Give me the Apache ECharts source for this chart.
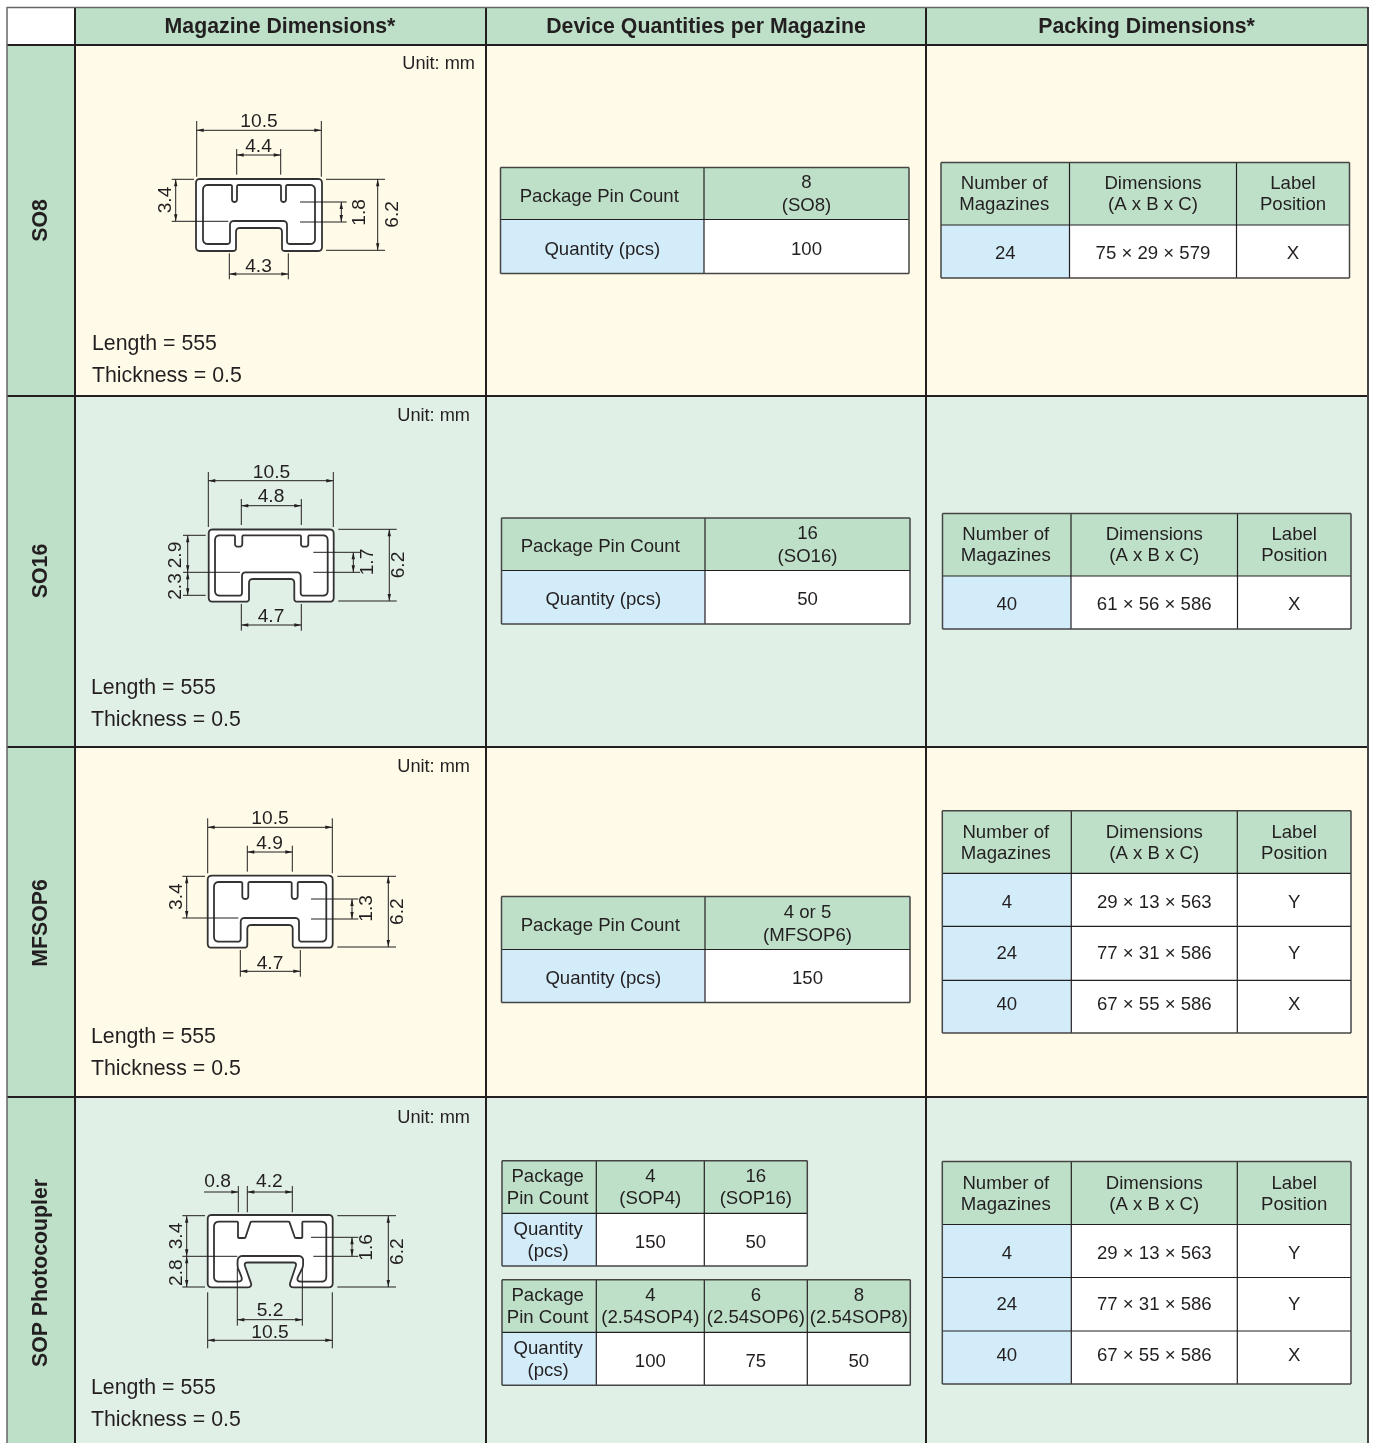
<!DOCTYPE html>
<html><head><meta charset="utf-8">
<style>html,body{margin:0;padding:0;background:#fff}#c{width:1376px;height:1443px}</style>
<script src="https://cdn.jsdelivr.net/npm/echarts@6/dist/echarts.min.js"></script>
</head><body><div id="c"></div>
<script>
// ---------- content ----------
const columnTitles = ["Magazine Dimensions*", "Device Quantities per Magazine", "Packing Dimensions*"];
const packageNames = ["SO8", "SO16", "MFSOP6", "SOP Photocoupler"];
const unitLabel = "Unit: mm";
const lengthLabel = "Length = 555";
const thicknessLabel = "Thickness = 0.5";
const packingHeader = ["Number of\nMagazines", "Dimensions\n(A x B x C)", "Label\nPosition"];
const so8Quantity = [["Package Pin Count", "8\n(SO8)"], ["Quantity (pcs)", "100"]];
const so16Quantity = [["Package Pin Count", "16\n(SO16)"], ["Quantity (pcs)", "50"]];
const mfsopQuantity = [["Package Pin Count", "4 or 5\n(MFSOP6)"], ["Quantity (pcs)", "150"]];
const sopQuantity = [["Package\nPin Count", "4\n(SOP4)", "16\n(SOP16)"], ["Quantity\n(pcs)", "150", "50"]];
const sop254Quantity = [["Package\nPin Count", "4\n(2.54SOP4)", "6\n(2.54SOP6)", "8\n(2.54SOP8)"], ["Quantity\n(pcs)", "100", "75", "50"]];
const so8Packing = [["24", "75 × 29 × 579", "X"]];
const so16Packing = [["40", "61 × 56 × 586", "X"]];
const mfsopPacking = [["4", "29 × 13 × 563", "Y"], ["24", "77 × 31 × 586", "Y"], ["40", "67 × 55 × 586", "X"]];
const sopPacking = [["4", "29 × 13 × 563", "Y"], ["24", "77 × 31 × 586", "Y"], ["40", "67 × 55 × 586", "X"]];
const so8Dims = ["10.5", "4.4", "3.4", "1.8", "6.2", "4.3"];
const so16Dims = ["10.5", "4.8", "2.9", "2.3", "1.7", "6.2", "4.7"];
const mfsopDims = ["10.5", "4.9", "3.4", "1.3", "6.2", "4.7"];
const sopDims = ["0.8", "4.2", "3.4", "2.8", "1.6", "6.2", "5.2", "10.5"];

// ---------- styling ----------
const INK = "#231F20", HEAD = "#BEE0C9", YEL = "#FFFBE8", MINT = "#E1F0E6", BLUE = "#D3ECFA";
const FONT = '"Liberation Sans", Arial, sans-serif';
const CELL = 18.6;
const prims = [];
const rect = (x0, y0, x1, y1, fill) => prims.push({k: "rect", x0, y0, x1, y1, fill});
const line = (x1, y1, x2, y2, lw, color) => prims.push({k: "line", x1, y1, x2, y2, lw: lw || 1, color: color || INK});
const text = (s, x, y, size, o) => prims.push(Object.assign({k: "text", s, x, y, size}, o || {}));
const poly = (pts, fill, lw) => prims.push({k: "poly", pts, fill, lw: lw || 0});

// ---------- table frame ----------
const colX = [7, 75, 486, 926, 1368];
const rowY = [45, 396, 747, 1097, 1444];
rect(colX[0], 8, colX[1], rowY[0], "#fff");
rect(colX[1], 8, colX[4], rowY[0], HEAD);
rect(colX[0], rowY[0], colX[1], 1444, HEAD);
[YEL, MINT, YEL, MINT].forEach((c, i) => rect(colX[1], rowY[i], colX[4], rowY[i + 1], c));
const headerCX = [280, 706, 1146.5];
columnTitles.forEach((t, i) => text(t, headerCX[i], 26, 21.3, {bold: true}));
const nameCY = [220.5, 571, 923, 1273];
packageNames.forEach((t, i) => text(t, 40.5, nameCY[i], 21.3, {bold: true, rot: true}));
[[475, 63, 92, 343, 375], [470, 415, 91, 687, 719], [470, 766, 91, 1036, 1068], [470, 1117, 91, 1387, 1419]].forEach(a => {
  text(unitLabel, a[0], a[1], 18.2, {align: "right"});
  text(lengthLabel, a[2], a[3], 21.3, {align: "left"});
  text(thicknessLabel, a[2], a[4], 21.3, {align: "left"});
});

// ---------- inner tables ----------
function drawTable(xs, ys, cells, o) {
  const n = xs.length - 1, m = ys.length - 1;
  for (let r = 0; r < m; r++) for (let c = 0; c < n; c++)
    rect(xs[c], ys[r], xs[c + 1], ys[r + 1], r === 0 ? HEAD : (c === 0 ? BLUE : "#fff"));
  for (let c = 1; c < n; c++) line(xs[c], ys[0], xs[c], ys[m], 1.2);
  for (let r = 1; r < m; r++) line(xs[0], ys[r], xs[n], ys[r], 1.2);
  line(xs[0], ys[0], xs[n], ys[0], 1.5, "#444"); line(xs[0], ys[m], xs[n], ys[m], 1.5, "#444");
  line(xs[0], ys[0], xs[0], ys[m], 1.5, "#444"); line(xs[n], ys[0], xs[n], ys[m], 1.5, "#444");
  cells.forEach((row, r) => row.forEach((s, c) => {
    let cx = (xs[c] + xs[c + 1]) / 2;
    if (c === 0 && r === 0) cx += o.headDx || 0;
    if (c === 0 && r > 0) cx += o.bodyDx || 0;
    const cy = (ys[r] + ys[r + 1]) / 2;
    const parts = s.split("\n");
    const single = o.bodyDy && r > 0 ? o.bodyDy[r - 1] : (o.single === undefined ? 2.5 : o.single);
    if (parts.length === 1) text(s, cx, cy + single, CELL);
    else parts.forEach((p, i) => text(p, cx, cy + (i - 0.5) * o.gap, CELL));
  }));
}
drawTable([500.5, 704, 909], [167.5, 219.5, 273.5], so8Quantity, {gap: 23, headDx: -3});
drawTable([501.5, 705, 910], [518, 570.5, 624], so16Quantity, {gap: 23, headDx: -3, single: 2});
drawTable([501.5, 705, 910], [896.5, 949.5, 1002.5], mfsopQuantity, {gap: 23, headDx: -3, single: 1.5});
drawTable([502, 596.3, 704.3, 807.3], [1160.7, 1213.3, 1266], sopQuantity, {gap: 22, headDx: -1.5, bodyDx: -1});
drawTable([502, 596.3, 704.3, 807.3, 910.3], [1279.7, 1332.3, 1385.3], sop254Quantity, {gap: 22, headDx: -1.5, bodyDx: -1, single: 2});
const packHead = r => [packingHeader].concat(r);
const packDy1 = [1.5], packDy3 = [2, 0, -2.5];
drawTable([941, 1069.5, 1236.5, 1349.5], [162.5, 225, 278], packHead(so8Packing), {gap: 21, headDx: -1, bodyDy: packDy1});
drawTable([942.5, 1071, 1237.5, 1351], [513.5, 576, 629], packHead(so16Packing), {gap: 21, headDx: -1, bodyDy: packDy1});
drawTable([942.3, 1071.3, 1237.3, 1351], [810.7, 873.3, 926.3, 980.3, 1033], packHead(mfsopPacking), {gap: 21, headDx: -1, bodyDy: packDy3});
drawTable([942.3, 1071.3, 1237.3, 1351], [1161.5, 1224.5, 1277.5, 1331, 1384], packHead(sopPacking), {gap: 21, headDx: -1, bodyDy: packDy3});

// frame lines on top of the fills
[rowY[0], rowY[1], rowY[2], rowY[3]].forEach(y => line(colX[0], y, colX[4], y, 2));
[colX[1], colX[2], colX[3]].forEach(x => line(x, 8, x, 1443, 2));
line(colX[0], 7.5, colX[4], 7.5, 1.5, "#666");
line(colX[0], 7, colX[0], 1443, 1.5, "#666");
line(colX[4], 7, colX[4], 1443, 2, "#444");

// ---------- magazine profiles ----------
function roundPts(pts) {
  const out = [], n = pts.length;
  pts.forEach((p, i) => {
    const a = pts[(i + n - 1) % n], b = pts[(i + 1) % n], r = p[2] || 0;
    const la = Math.hypot(a[0] - p[0], a[1] - p[1]), lb = Math.hypot(b[0] - p[0], b[1] - p[1]);
    const ra = Math.min(r, la / 2), rb = Math.min(r, lb / 2);
    const s = [p[0] + (a[0] - p[0]) / la * ra, p[1] + (a[1] - p[1]) / la * ra];
    const e = [p[0] + (b[0] - p[0]) / lb * rb, p[1] + (b[1] - p[1]) / lb * rb];
    for (let t = 0; t <= 1.001; t += 0.2) {
      const u = 1 - t;
      out.push([u * u * s[0] + 2 * u * t * p[0] + t * t * e[0], u * u * s[1] + 2 * u * t * p[1] + t * t * e[1]]);
    }
  });
  return out;
}
const WALL = 1.8;
function drawProfile(outer, inner) {
  poly(roundPts(outer), "#fff", WALL);
  poly(roundPts(inner), "#fff", WALL);
}
function standard(g) {
  drawProfile([
    [g.ox0, g.oy0, 4], [g.ox1, g.oy0, 4], [g.ox1, g.oy1, 4], [g.nB, g.oy1, 3], [g.nB, g.nY, 4],
    [g.nA, g.nY, 4], [g.nA, g.oy1, 3], [g.ox0, g.oy1, 4]
  ], [
    [g.ix0, g.iy0, 5], [g.s1a, g.iy0, 1.5], [g.s1a, g.sy, 3], [g.s1b, g.sy, 3], [g.s1b, g.iy0, 1.5],
    [g.s2a, g.iy0, 1.5], [g.s2a, g.sy, 3], [g.s2b, g.sy, 3], [g.s2b, g.iy0, 1.5],
    [g.ix1, g.iy0, 5], [g.ix1, g.iy1, 5], [g.lB, g.iy1, 3], [g.lB, g.lY, 4], [g.lA, g.lY, 4], [g.lA, g.iy1, 3], [g.ix0, g.iy1, 5]
  ]);
}
standard({ox0:196,ox1:322,oy0:179,oy1:251,ix0:203,ix1:315,iy0:185,iy1:244,s1a:232,s1b:237,s2a:281,s2b:286,sy:202,lA:230,lB:287,lY:221,nA:236,nB:282,nY:228});
standard({ox0:208.7,ox1:333.7,oy0:529.5,oy1:601.7,ix0:215,ix1:327.7,iy0:535.3,iy1:595.7,s1a:235,s1b:242.3,s2a:301,s2b:308.3,sy:546.7,lA:242,lB:300.7,lY:572.3,nA:249,nB:294.3,nY:579});
standard({ox0:207.7,ox1:332.7,oy0:875.7,oy1:947.7,ix0:214,ix1:326.3,iy0:882,iy1:941.7,s1a:242.3,s1b:248.3,s2a:291.7,s2b:297.7,sy:899,lA:240.7,lB:299,lY:918,nA:247.3,nB:292.7,nY:925});
drawProfile([
  [207.7,1215,4],[332.7,1215,4],[332.7,1287.3,4],[288.7,1287.3,5],[297,1262.5,4],[243.7,1262.5,4],[252.5,1287.3,5],[207.7,1287.3,4]
], [
  [214,1221.7,5],[238,1221.7,1],[238,1238,1],[245.3,1238,1],[250.7,1221.7,1],[289.3,1221.7,1],[295,1238,1],[302.3,1238,1],[302.3,1221.7,1],
  [326.3,1221.7,5],[326.3,1281.7,5],[295.5,1281.7,6],[303,1267,2.5],[303.3,1256,5],[237.7,1256,5],[237.5,1267,2.5],[243.5,1281.7,6],[214,1281.7,5]
]);

// ---------- dimension annotations ----------
function head(x, y, dx, dy) { // tip at x,y; dx,dy pointing direction
  const L = 7, W = 1.7, bx = x - dx * L, by = y - dy * L;
  poly([[x, y], [bx + dy * W, by + dx * W], [bx - dy * W, by - dx * W]], INK, 0);
}
function hDim(x1, x2, y) { line(x1, y, x2, y); head(x1, y, -1, 0); head(x2, y, 1, 0); }
function vDim(x, y1, y2) { line(x, y1, x, y2); head(x, y1, 0, -1); head(x, y2, 0, 1); }
const DS = 19.2;
const lab = (s, x, y) => text(s, x, y, DS);
const rlab = (s, x, y) => text(s, x, y, DS, {rot: true});

// SO8
[[196.7,121,176.7],[321.3,121,176.7],[236.7,149,174.7],[280.7,149,174.7],[229.3,253.3,279.3],[288.3,253.3,279.3]].forEach(a => line(a[0],a[1],a[0],a[2]));
[[171.7,194,179.3],[171.7,228.3,221.3],[300,346.7,202],[300,346.7,222],[326,385,179.3],[326,385,250.3]].forEach(a => line(a[0],a[2],a[1],a[2]));
hDim(196.7,321.3,130.3); hDim(236.7,280.7,155); hDim(229.3,288.3,274);
vDim(175.7,179.3,221.3); vDim(341.3,202,222); vDim(377.7,179.3,250.3);
lab(so8Dims[0],259,121); lab(so8Dims[1],258.5,146); rlab(so8Dims[2],164.5,200); rlab(so8Dims[3],358.5,212.3); rlab(so8Dims[4],391.5,214.3); lab(so8Dims[5],258.5,265.5);

// SO16
[[208.3,472,527],[333.3,472,527],[241.3,499,525],[301.3,499,525],[241.3,604,630.7],[301.3,604,630.7]].forEach(a => line(a[0],a[1],a[0],a[2]));
[[183,205.7,535.3],[183,240,572.3],[183,205.7,595.3],[313.3,360,552.3],[313.3,360,572.3],[338.3,396.7,529.3],[338.3,396.7,601]].forEach(a => line(a[0],a[2],a[1],a[2]));
hDim(208.3,333.3,480.7); hDim(241.3,301.3,505.7); hDim(241.3,301.3,625);
vDim(187.7,535.3,572.3); vDim(187.7,572.3,595.3); vDim(353.3,552.3,572.3); vDim(389.3,529.3,601);
lab(so16Dims[0],271.5,472); lab(so16Dims[1],271,496); rlab(so16Dims[2],175,555); rlab(so16Dims[3],175,586.5); rlab(so16Dims[4],366.5,562); rlab(so16Dims[5],398,565); lab(so16Dims[6],271,615.5);

// MFSOP6
[[207.7,818.3,873.3],[332.3,818.3,873.3],[247.3,845.7,871.7],[292.3,845.7,871.7],[240.3,950,976.7],[300.3,950,976.7]].forEach(a => line(a[0],a[1],a[0],a[2]));
[[182.3,205,876.3],[182.3,238.3,918],[311,358.3,899],[311,358.3,919],[337.3,396,876.3],[337.3,396,947]].forEach(a => line(a[0],a[2],a[1],a[2]));
hDim(207.7,332.3,827.3); hDim(247.3,292.3,852); hDim(240.3,300.3,971.3);
vDim(186.7,876.3,918); vDim(352,899,919); vDim(388.3,876.3,947);
lab(mfsopDims[0],270,818); lab(mfsopDims[1],269.5,843); rlab(mfsopDims[2],176,896.7); rlab(mfsopDims[3],365.5,908.3); rlab(mfsopDims[4],397,911.7); lab(mfsopDims[5],270,962.5);

// SOP Photocoupler
[[238.3,1186,1212.3],[247.3,1186,1212.3],[292.3,1186,1212.3],[237.3,1268.3,1325.7],[302.3,1268.3,1325.7],[207.7,1292.3,1348.3],[332.3,1292.3,1348.3]].forEach(a => line(a[0],a[1],a[0],a[2]));
[[182.3,205,1215.7],[182.3,237.3,1256.3],[182.3,205,1287],[311,358.3,1237.3],[313.3,358.3,1256.3],[337.3,396,1215.7],[337.3,396,1287]].forEach(a => line(a[0],a[2],a[1],a[2]));
line(204,1192,238.3,1192); head(238.3,1192,1,0);
head(247.3,1192,-1,0); line(247.3,1192,292.3,1192); head(292.3,1192,1,0);
hDim(237.3,302.3,1319.7); hDim(207.7,332.3,1340.3);
vDim(186.7,1215.7,1256.3); vDim(186.7,1256.3,1287); vDim(352,1237.3,1256.3); vDim(388.3,1215.7,1287);
lab(sopDims[0],217.7,1181); lab(sopDims[1],269.3,1181); rlab(sopDims[2],176,1236); rlab(sopDims[3],176,1272.7); rlab(sopDims[4],365.5,1247.3); rlab(sopDims[5],397,1251.7); lab(sopDims[6],270,1310); lab(sopDims[7],270,1331.5);

// ---------- chart ----------
function renderItem(params, api) {
  const p = prims[api.value(0)];
  const at = (x, y) => api.coord([x, y]);
  if (p.k === "rect") {
    const a = at(p.x0, p.y0), b = at(p.x1, p.y1);
    return {type: "rect", silent: true, shape: {x: a[0], y: a[1], width: b[0] - a[0], height: b[1] - a[1]}, style: {fill: p.fill}};
  }
  if (p.k === "line") {
    const a = at(p.x1, p.y1), b = at(p.x2, p.y2);
    return {type: "line", silent: true, shape: {x1: a[0], y1: a[1], x2: b[0], y2: b[1]}, style: {stroke: p.color, lineWidth: p.lw, fill: null}};
  }
  if (p.k === "poly") {
    return {type: "polygon", silent: true, shape: {points: p.pts.map(q => at(q[0], q[1]))},
      style: {fill: p.fill, stroke: p.lw ? "#333" : null, lineWidth: p.lw, lineJoin: "round"}};
  }
  // glyph boxes sit slightly above their optical centre, so nudge them down the reading perpendicular
  const c = p.rot ? at(p.x + 1, p.y) : at(p.x, p.y + 1);
  return {type: "text", silent: true, x: c[0], y: c[1], rotation: p.rot ? Math.PI / 2 : 0,
    style: {text: p.s, x: 0, y: 0, fill: INK, align: p.align || "center", verticalAlign: "middle",
      font: (p.bold ? "bold " : "") + p.size + "px " + FONT}};
}
const chart = echarts.init(document.getElementById("c"), null, {renderer: "canvas"});
chart.setOption({
  animation: false,
  backgroundColor: "#fff",
  tooltip: {show: false},
  grid: {left: 0, right: 0, top: 0, bottom: 0},
  xAxis: {type: "value", min: 0, max: 1376, show: false},
  yAxis: {type: "value", min: 0, max: 1443, inverse: true, show: false},
  series: [{type: "custom", coordinateSystem: "cartesian2d", clip: false, silent: true, progressive: 0,
    renderItem, encode: {x: 0, y: 1}, data: prims.map((_, i) => [i, 0])}]
});
</script></body></html>
